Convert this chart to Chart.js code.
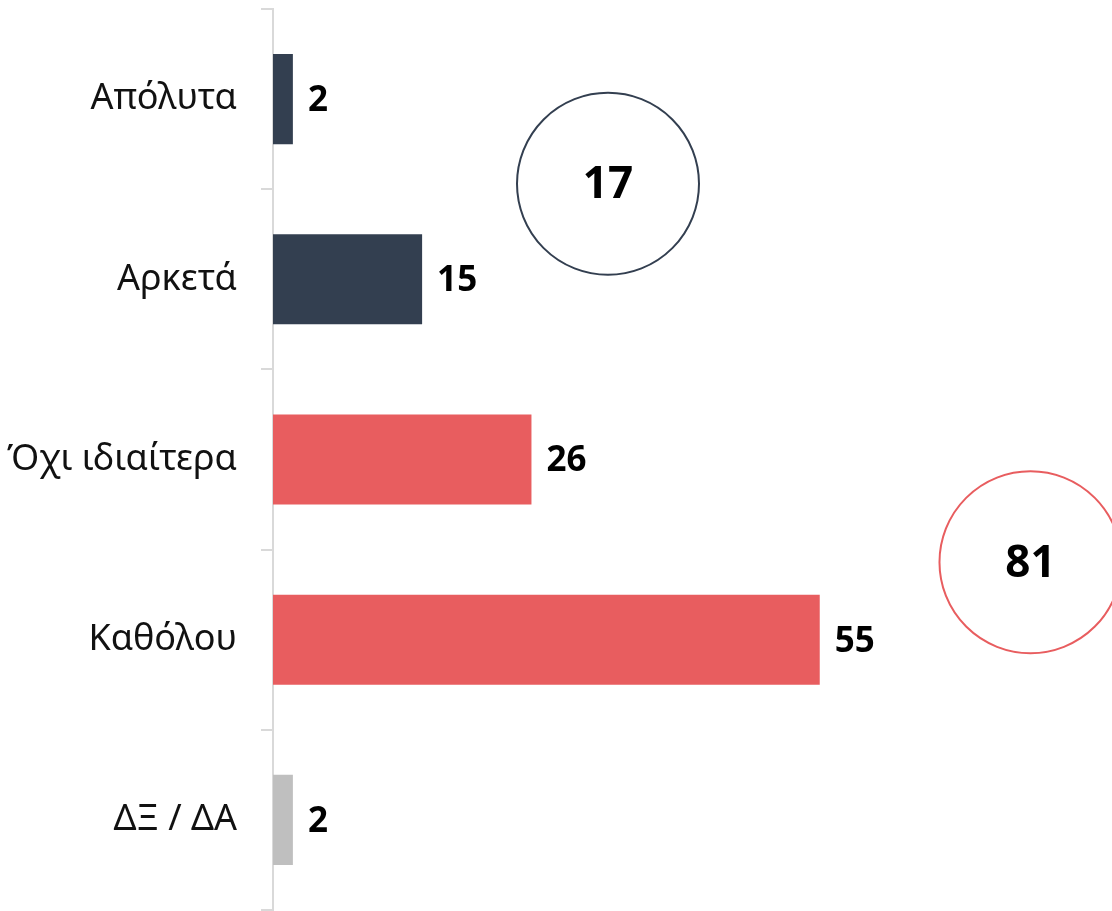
<!DOCTYPE html>
<html>
<head>
<meta charset="utf-8">
<script src="https://cdn.jsdelivr.net/npm/chart.js@4/dist/chart.umd.min.js"></script>
<style>
  html, body { margin: 0; padding: 0; background: #fff; }
  #wrap { width: 1112px; height: 911px; }
</style>
</head>
<body>
<div id="wrap"><canvas id="main-chart"></canvas></div>
<script>
const categories = ["Απόλυτα", "Αρκετά", "Όχι ιδιαίτερα", "Καθόλου", "ΔΞ / ΔΑ"];
const values = [2, 15, 26, 55, 2];
const barColors = ["#333f50", "#333f50", "#e85d5f", "#e85d5f", "#bfbfbf"];
// grouped totals shown in the circles: [first index, last index]
const groups = [[0, 1], [2, 3]];
const groupColors = ["#333f50", "#e85d5f"];

const FONT = "'Noto Sans', 'DejaVu Sans', sans-serif";

// value labels at the end of each bar
const barLabels = {
  id: "barLabels",
  afterDatasetsDraw(chart) {
    const ctx = chart.ctx;
    const meta = chart.getDatasetMeta(0);
    ctx.save();
    ctx.font = "bold 35px " + FONT;
    ctx.fillStyle = "#000";
    ctx.textAlign = "left";
    ctx.textBaseline = "middle";
    meta.data.forEach((bar, i) => {
      ctx.fillText(String(values[i]), bar.x + 15, bar.y + 2);
    });
    ctx.restore();
  }
};

// circles with the group totals, placed in data coordinates
const groupCircles = {
  id: "groupCircles",
  afterDraw(chart, args, opts) {
    const ctx = chart.ctx;
    const xs = chart.scales.x, ys = chart.scales.y;
    const step = ys.getPixelForValue(1) - ys.getPixelForValue(0);
    ctx.save();
    groups.forEach((g, k) => {
      const total = values.slice(g[0], g[1] + 1).reduce((a, b) => a + b, 0);
      const cx = xs.getPixelForValue(opts.at[k][0]);
      const cy = ys.getPixelForValue(0) + step * opts.at[k][1];
      ctx.beginPath();
      ctx.arc(cx, cy, opts.radius, 0, Math.PI * 2);
      ctx.lineWidth = 2;
      ctx.strokeStyle = groupColors[k];
      ctx.stroke();
      ctx.font = "bold 44px " + FONT;
      ctx.fillStyle = "#000";
      ctx.textAlign = "center";
      ctx.textBaseline = "middle";
      ctx.fillText(String(total), cx, cy + 2);
    });
    ctx.restore();
  }
};

document.addEventListener("DOMContentLoaded", () => {
  const canvas1 = document.getElementById("main-chart");

  new Chart(canvas1, {
    type: "bar",
    data: {
      labels: categories,
      datasets: [{
        data: values,
        backgroundColor: barColors,
        borderWidth: 0,
        categoryPercentage: 1,
        barPercentage: 0.5
      }]
    },
    options: {
      indexAxis: "y",
      responsive: true,
      maintainAspectRatio: false,
      animation: false,
      layout: { padding: { top: 9, bottom: 1, left: 0, right: 0 } },
      plugins: {
        legend: { display: false },
        tooltip: { enabled: false },
        groupCircles: {
          radius: 91,
          at: [[33.7, 0.47], [76.2, 2.57]]
        }
      },
      scales: {
        x: {
          display: false,
          min: 0,
          max: 84.4
        },
        y: {
          afterFit(scale) {
            scale.width = 273;
            scale.paddingTop = 0;
            scale.paddingBottom = 0;
          },
          border: { display: true, color: "#d9d9d9", width: 2 },
          grid: {
            offset: true,
            drawOnChartArea: false,
            drawTicks: true,
            tickLength: 12,
            color: "#d9d9d9",
            lineWidth: 2
          },
          ticks: {
            color: "#111",
            padding: 24,
            font: { family: FONT, size: 36 }
          }
        }
      }
    },
    plugins: [barLabels, groupCircles]
  });
});
</script>
</body>
</html>
